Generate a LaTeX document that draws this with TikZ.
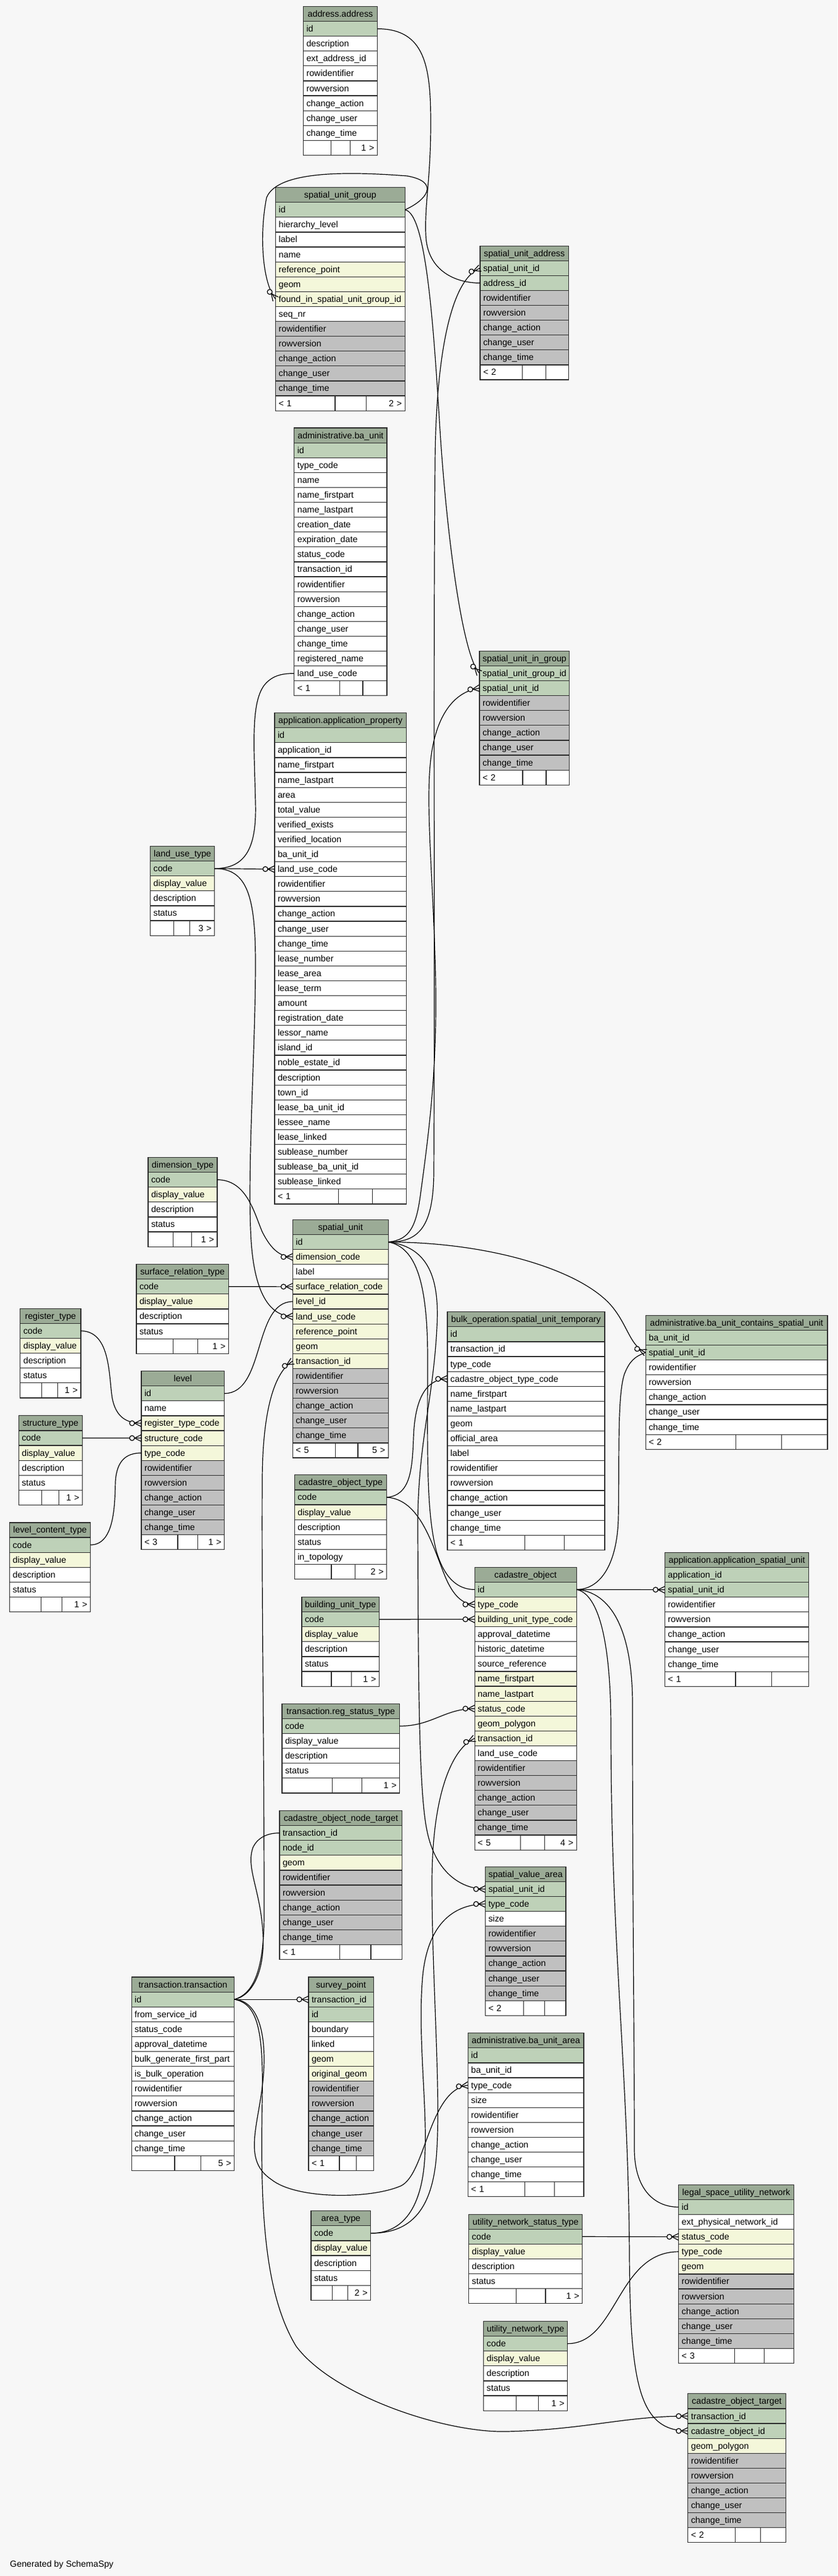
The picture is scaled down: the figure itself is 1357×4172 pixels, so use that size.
\documentclass[tikz,border=0pt]{standalone}
\usepackage{fontspec}
\setmainfont{Liberation Sans}
\usetikzlibrary{positioning,decorations.markings}

\definecolor{bgcol}{HTML}{F7F7F7}
\definecolor{headcol}{HTML}{9BAB96}
\definecolor{pkcol}{HTML}{BED1B8}
\definecolor{ixcol}{HTML}{F4F7DA}
\definecolor{excol}{HTML}{C0C0C0}
\definecolor{linecol}{HTML}{2E2E2E}

\tikzset{
  tcell/.style={draw=linecol, line width=1.2pt, outer sep=0pt, inner xsep=5pt, inner ysep=0pt,
    minimum height=24.1pt, text height=10.4pt, text depth=0.4pt},
  colhead/.style={tcell, fill=headcol, align=center},
  colpk/.style={tcell, fill=pkcol, align=left},
  colix/.style={tcell, fill=ixcol, align=left},
  colpl/.style={tcell, fill=white, align=left},
  colex/.style={tcell, fill=excol, align=left},
  footl/.style={tcell, fill=white, align=left},
  footr/.style={tcell, fill=white, align=right},
  fkrel/.style={draw=black, line width=1.2pt,
    postaction={decorate, decoration={markings, mark=at position 1 with {
      \draw[line width=1.2pt, fill=bgcol] (-15pt,0pt) circle (4pt);
      \draw[line width=1.2pt] (0pt,5.5pt) -- (-11pt,0pt) -- (0pt,-5.5pt);}}}},
  onerel/.style={draw=black, line width=1.2pt,
    postaction={decorate, decoration={markings, mark=at position 1 with {
      \draw[line width=1.2pt, fill=bgcol] (-12pt,0pt) circle (4pt);
      \draw[line width=1.8pt] (-3pt,-6pt) -- (-3pt,6pt);}}}},
}

% #1 id, #2 top left, #3 width, #4 title, #5 columns, #6/#7 footer texts, #8/#9 footer splits
\newcommand{\dbtable}[9]{%
  \pgfmathsetmacro{\tw}{#3-10}%
  \pgfmathsetmacro{\wa}{#8*#3}%
  \pgfmathsetmacro{\wb}{(#9-#8)*#3}%
  \pgfmathsetmacro{\wc}{(1-#9)*#3}%
  \pgfmathsetmacro{\twa}{\wa-10}%
  \pgfmathsetmacro{\twc}{\wc-10}%
  \node[colhead, text width=\tw pt, anchor=north west] (#1-head) at #2 {#4};
  \foreach \col/\kind [remember=\col as \prevcol (initially head)] in {#5}{%
    \node[\kind, text width=\tw pt, below=0pt of #1-\prevcol] (#1-\col) {\col};
    \xdef\lastrow{\col}}
  \node[footl, text width=\twa pt, anchor=north west] (#1-fl) at (#1-\lastrow.south west) {#6};
  \node[tcell, fill=white, minimum width=\wb pt, right=0pt of #1-fl] (#1-fm) {};
  \node[footr, text width=\twc pt, right=0pt of #1-fm] (#1-fr) {#7};
}

\begin{document}
\catcode`\_=12
\begin{tikzpicture}[x=1pt, y=-1pt, every node/.style={font=\fontsize{14.3pt}{17pt}\selectfont, text=black}]

\fill[bgcol] (0,0) rectangle (1357,4172);
\useasboundingbox (0,0) rectangle (1357,4172);

\dbtable{addr}{(491.5,10.5)}{120}{address.address}{id/colpk,description/colpl,ext_address_id/colpl,
  rowidentifier/colpl,rowversion/colpl,change_action/colpl,change_user/colpl,change_time/colpl}{}{1 >}{0.376}{0.63}
\dbtable{sug}{(446.6,303.6)}{209.6}{spatial_unit_group}{id/colpk,hierarchy_level/colpl,label/colpl,name/colpl,
  reference_point/colix,geom/colix,found_in_spatial_unit_group_id/colix,seq_nr/colpl,rowidentifier/colex,
  rowversion/colex,change_action/colex,change_user/colex,change_time/colex}{< 1}{2 >}{0.46}{0.70}
\dbtable{sua}{(778,398.1)}{143.4}{spatial_unit_address}{spatial_unit_id/colpk,address_id/colpk,rowidentifier/colex,
  rowversion/colex,change_action/colex,change_user/colex,change_time/colex}{< 2}{}{0.48}{0.74}
\dbtable{bau}{(476.8,693)}{150.2}{administrative.ba_unit}{id/colpk,type_code/colpl,name/colpl,name_firstpart/colpl,
  name_lastpart/colpl,creation_date/colpl,expiration_date/colpl,status_code/colpl,transaction_id/colpl,
  rowidentifier/colpl,rowversion/colpl,change_action/colpl,change_user/colpl,change_time/colpl,
  registered_name/colpl,land_use_code/colpl}{< 1}{}{0.49}{0.74}
\dbtable{sig}{(777,1054.3)}{145.8}{spatial_unit_in_group}{spatial_unit_group_id/colpk,spatial_unit_id/colpk,
  rowidentifier/colex,rowversion/colex,change_action/colex,change_user/colex,change_time/colex}{< 2}{}{0.48}{0.74}
\dbtable{app}{(445,1154.6)}{213.5}{application.application_property}{id/colpk,application_id/colpl,
  name_firstpart/colpl,name_lastpart/colpl,area/colpl,total_value/colpl,verified_exists/colpl,
  verified_location/colpl,ba_unit_id/colpl,land_use_code/colpl,rowidentifier/colpl,rowversion/colpl,
  change_action/colpl,change_user/colpl,change_time/colpl,lease_number/colpl,lease_area/colpl,lease_term/colpl,
  amount/colpl,registration_date/colpl,lessor_name/colpl,island_id/colpl,noble_estate_id/colpl,
  description/colpl,town_id/colpl,lease_ba_unit_id/colpl,lessee_name/colpl,lease_linked/colpl,
  sublease_number/colpl,sublease_ba_unit_id/colpl,sublease_linked/colpl}{< 1}{}{0.485}{0.742}
\dbtable{lut}{(243.6,1370.5)}{104.2}{land_use_type}{code/colpk,display_value/colix,description/colpl,
  status/colpl}{}{3 >}{0.363}{0.616}
\dbtable{dim}{(240,1874.5)}{112}{dimension_type}{code/colpk,display_value/colix,description/colpl,
  status/colpl}{}{1 >}{0.365}{0.632}
\dbtable{su}{(474.4,1975.4)}{154.9}{spatial_unit}{id/colpk,dimension_code/colix,label/colpl,
  surface_relation_code/colix,level_id/colix,land_use_code/colix,reference_point/colix,geom/colix,
  transaction_id/colix,rowidentifier/colex,rowversion/colex,change_action/colex,change_user/colex,
  change_time/colex}{< 5}{5 >}{0.448}{0.682}
\dbtable{srt}{(221,2047.6)}{149.4}{surface_relation_type}{code/colpk,display_value/colix,description/colpl,
  status/colpl}{}{1 >}{0.4}{0.665}
\dbtable{reg}{(32.8,2119.3)}{98.1}{register_type}{code/colpk,display_value/colix,description/colpl,
  status/colpl}{}{1 >}{0.352}{0.618}
\dbtable{lvl}{(229,2220.6)}{134.7}{level}{id/colpk,name/colpl,register_type_code/colix,structure_code/colix,
  type_code/colix,rowidentifier/colex,rowversion/colex,change_action/colex,change_user/colex,
  change_time/colex}{< 3}{1 >}{0.4375}{0.678}
\dbtable{str}{(30.3,2292.8)}{103.1}{structure_type}{code/colpk,display_value/colix,description/colpl,
  status/colpl}{}{1 >}{0.359}{0.629}
\dbtable{lct}{(15.6,2465.9)}{130.9}{level_content_type}{code/colpk,display_value/colix,description/colpl,
  status/colpl}{}{1 >}{0.389}{0.646}
\dbtable{bulk}{(724.9,2124.7)}{255.1}{bulk_operation.spatial_unit_temporary}{id/colpk,transaction_id/colpl,
  type_code/colpl,cadastre_object_type_code/colpl,name_firstpart/colpl,name_lastpart/colpl,geom/colpl,
  official_area/colpl,label/colpl,rowidentifier/colpl,rowversion/colpl,change_action/colpl,change_user/colpl,
  change_time/colpl}{< 1}{}{0.491}{0.744}
\dbtable{bauc}{(1046.3,2130.3)}{294.7}{administrative.ba_unit_contains_spatial_unit}{ba_unit_id/colpk,
  spatial_unit_id/colpk,rowidentifier/colpl,rowversion/colpl,change_action/colpl,change_user/colpl,
  change_time/colpl}{< 2}{}{0.495}{0.748}
\dbtable{cot}{(477.3,2388.8)}{149.4}{cadastre_object_type}{code/colpk,display_value/colix,description/colpl,
  status/colpl,in_topology/colpl}{}{2 >}{0.4}{0.656}
\dbtable{apsu}{(1077.4,2514.4)}{233.4}{application.application_spatial_unit}{application_id/colpk,
  spatial_unit_id/colpk,rowidentifier/colpl,rowversion/colpl,change_action/colpl,change_user/colpl,
  change_time/colpl}{< 1}{}{0.491}{0.742}
\dbtable{co}{(769.2,2538.2)}{165}{cadastre_object}{id/colpk,type_code/colix,building_unit_type_code/colix,
  approval_datetime/colpl,historic_datetime/colpl,source_reference/colpl,name_firstpart/colix,
  name_lastpart/colix,status_code/colix,geom_polygon/colix,transaction_id/colix,land_use_code/colpl,
  rowidentifier/colex,rowversion/colex,change_action/colex,change_user/colex,change_time/colex}{< 5}{4 >}{0.45}{0.688}
\dbtable{but}{(489,2586.5)}{125.4}{building_unit_type}{code/colpk,display_value/colix,description/colpl,
  status/colpl}{}{1 >}{0.383}{0.64}
\dbtable{rst}{(457,2759.3)}{190.6}{transaction.reg_status_type}{code/colpk,display_value/colpl,
  description/colpl,status/colpl}{}{1 >}{0.429}{0.681}
\dbtable{cont}{(453,2932.5)}{198.8}{cadastre_object_node_target}{transaction_id/colpk,node_id/colpk,geom/colix,
  rowidentifier/colex,rowversion/colex,change_action/colex,change_user/colex,change_time/colex}{< 1}{}{0.49}{0.744}
\dbtable{sva}{(786.5,3023.3)}{130.4}{spatial_value_area}{spatial_unit_id/colpk,type_code/colpk,size/colpl,
  rowidentifier/colex,rowversion/colex,change_action/colex,change_user/colex,change_time/colex}{< 2}{}{0.476}{0.736}
\dbtable{trn}{(213.1,3202)}{166.7}{transaction.transaction}{id/colpk,from_service_id/colpl,status_code/colpl,
  approval_datetime/colpl,bulk_generate_first_part/colpl,is_bulk_operation/colpl,rowidentifier/colpl,
  rowversion/colpl,change_action/colpl,change_user/colpl,change_time/colpl}{}{5 >}{0.419}{0.672}
\dbtable{sp}{(500,3202)}{105.2}{survey_point}{transaction_id/colpk,id/colpk,boundary/colpl,linked/colpl,
  geom/colix,original_geom/colix,rowidentifier/colex,rowversion/colex,change_action/colex,change_user/colex,
  change_time/colex}{< 1}{}{0.475}{0.733}
\dbtable{bua}{(758.4,3292.7)}{187.6}{administrative.ba_unit_area}{id/colpk,ba_unit_id/colpl,type_code/colpl,
  size/colpl,rowidentifier/colpl,rowversion/colpl,change_action/colpl,change_user/colpl,
  change_time/colpl}{< 1}{}{0.491}{0.747}
\dbtable{lsun}{(1099.7,3538.3)}{186.8}{legal_space_utility_network}{id/colpk,ext_physical_network_id/colpl,
  status_code/colix,type_code/colix,geom/colix,rowidentifier/colex,rowversion/colex,change_action/colex,
  change_user/colex,change_time/colex}{< 3}{}{0.485}{0.743}
\dbtable{art}{(504,3580.7)}{96.8}{area_type}{code/colpk,display_value/colix,description/colpl,
  status/colpl}{}{2 >}{0.358}{0.618}
\dbtable{unst}{(759.7,3586.1)}{184}{utility_network_status_type}{code/colpk,display_value/colix,
  description/colpl,status/colpl}{}{1 >}{0.419}{0.675}
\dbtable{unt}{(783.7,3759.5)}{135.9}{utility_network_type}{code/colpk,display_value/colix,description/colpl,
  status/colpl}{}{1 >}{0.387}{0.654}
\dbtable{cotg}{(1114.8,3876.8)}{158.3}{cadastre_object_target}{transaction_id/colpk,cadastre_object_id/colpk,
  geom_polygon/colix,rowidentifier/colex,rowversion/colex,change_action/colex,change_user/colex,
  change_time/colex}{< 2}{}{0.484}{0.742}

\node[anchor=base west, inner sep=0pt] (gen) at (16,4157) {Generated by SchemaSpy};

\draw[fkrel] (addr-id.east) .. controls (690,46.6) and (698,110) .. (698,200) .. controls (698,290) and (688,330) .. (690,380) .. controls (692,440) and (740,458.5) .. (sua-address_id.west);
\draw[fkrel] (sug-id.east) .. controls (690,325) and (715,295) .. (660,285) .. controls (570,278) and (450,275) .. (432,320) .. controls (420,380) and (425,458) .. (sug-found_in_spatial_unit_group_id.west);
\draw[fkrel] (sug-id.east) .. controls (690,345) and (702,520) .. (712,680) .. controls (722,850) and (748,1060) .. (sig-spatial_unit_group_id.west);

\draw[fkrel] (su-id.east) .. controls (680,2012) and (702,1985) .. (703,1900) .. controls (705,1500) and (702,1100) .. (705,750) .. controls (706,600) and (725,455) .. (sua-spatial_unit_id.west);
\draw[fkrel] (su-id.east) .. controls (665,2008) and (675,1985) .. (682,1930) .. controls (700,1800) and (710,1700) .. (705,1550) .. controls (700,1400) and (690,1300) .. (698,1230) .. controls (706,1160) and (735,1120) .. (sig-spatial_unit_id.west);
\draw[fkrel] (su-id.east) .. controls (800,2012) and (950,2060) .. (995,2120) .. controls (1018,2150) and (1022,2180) .. (bauc-spatial_unit_id.west);
\draw[onerel] (su-id.east) .. controls (675,2020) and (693,2080) .. (693,2200) .. controls (693,2350) and (690,2450) .. (708,2515) .. controls (722,2560) and (745,2574.4) .. (co-id.west);
\draw[fkrel] (su-id.east) .. controls (700,2020) and (712,2080) .. (708,2150) .. controls (702,2270) and (676,2340) .. (677,2480) .. controls (678,2700) and (678,2900) .. (692,2965) .. controls (705,3030) and (745,3059.5) .. (sva-spatial_unit_id.west);

\draw[fkrel] (lut-code.east) .. controls (400,1406.8) and (416,1370) .. (414,1300) .. controls (412,1210) and (406,1140) .. (428,1110) .. controls (440,1095) and (455,1090.6) .. (bau-land_use_code.west);
\draw[fkrel] (lut-code.east) -- (app-land_use_code.west);
\draw[fkrel] (lut-code.east) .. controls (400,1406.8) and (414,1450) .. (414,1560) .. controls (414,1700) and (400,1900) .. (407,2010) .. controls (413,2100) and (440,2132) .. (su-land_use_code.west);
\draw[fkrel] (dim-code.east) .. controls (400,1910.8) and (412,1965) .. (425,1995) .. controls (440,2025) and (455,2035.7) .. (su-dimension_code.west);
\draw[fkrel] (srt-code.east) -- (su-surface_relation_code.west);
\draw[fkrel] (lvl-id.east) .. controls (430,2256.8) and (410,2108) .. (su-level_id.west);
\draw[fkrel] (reg-code.east) .. controls (180,2155.6) and (176,2230) .. (182,2265) .. controls (188,2295) and (205,2305) .. (lvl-register_type_code.west);
\draw[fkrel] (str-code.east) -- (lvl-structure_code.west);
\draw[fkrel] (lct-code.east) .. controls (185,2502) and (186,2440) .. (187,2400) .. controls (189,2365) and (205,2353.2) .. (lvl-type_code.west);

\draw[fkrel] (cot-code.east) .. controls (665,2422) and (668,2380) .. (670,2330) .. controls (672,2262) and (692,2233.2) .. (bulk-cadastre_object_type_code.west);
\draw[fkrel] (cot-code.east) .. controls (680,2428) and (700,2500) .. (720,2550) .. controls (734,2585) and (750,2598.5) .. (co-type_code.west);
\draw[fkrel] (but-code.east) -- (co-building_unit_type_code.west);
\draw[fkrel] (rst-code.east) .. controls (700,2795.6) and (720,2767.2) .. (co-status_code.west);
\draw[fkrel] (art-code.east) .. controls (665,3617) and (703,3580) .. (708,3480) .. controls (714,3380) and (700,3200) .. (700,3050) .. controls (700,2900) and (735,2830) .. (co-transaction_id.west);
\draw[fkrel] (art-code.east) .. controls (650,3617) and (682,3580) .. (688,3500) .. controls (694,3420) and (676,3300) .. (685,3200) .. controls (694,3110) and (740,3083.8) .. (sva-type_code.west);

\draw[fkrel] (trn-id.east) .. controls (420,3240) and (435,3300) .. (425,3380) .. controls (416,3450) and (395,3500) .. (440,3530) .. controls (480,3562) and (600,3562) .. (650,3540) .. controls (690,3520) and (695,3385) .. (bua-type_code.west);
\draw[fkrel] (trn-id.east) -- (sp-transaction_id.west);
\draw[fkrel] (trn-id.east) .. controls (410,3232) and (430,3190) .. (426,3130) .. controls (422,3060) and (398,3025) .. (410,2992) .. controls (418,2975) and (435,2968.5) .. (cont-transaction_id.west);
\draw[fkrel] (trn-id.east) .. controls (415,3228) and (428,3180) .. (428,3100) .. controls (428,2800) and (424,2600) .. (425,2400) .. controls (425,2300) and (440,2225) .. (su-transaction_id.west);
\draw[fkrel] (trn-id.east) .. controls (418,3245) and (427,3290) .. (425,3400) .. controls (422,3560) and (425,3710) .. (480,3800) .. controls (540,3880) and (720,3940) .. (820,3938) .. controls (950,3935) and (1010,3913) .. (cotg-transaction_id.west);

\draw[fkrel] (co-id.east) -- (apsu-spatial_unit_id.west);
\draw[fkrel] (co-id.east) .. controls (975,2574) and (1000,2530) .. (1002,2460) .. controls (1004,2360) and (1000,2260) .. (1012,2225) .. controls (1020,2205) and (1028,2197) .. (bauc-spatial_unit_id.west);
\draw[onerel] (co-id.east) .. controls (990,2578) and (1025,2640) .. (1025,2760) .. controls (1025,3100) and (1028,3300) .. (1028,3480) .. controls (1028,3545) and (1060,3574.5) .. (lsun-id.west);
\draw[fkrel] (co-id.east) .. controls (965,2580) and (990,2640) .. (990,2800) .. controls (990,3150) and (1018,3350) .. (1020,3650) .. controls (1021,3860) and (1035,3937) .. (cotg-cadastre_object_id.west);
\draw[fkrel] (unst-code.east) -- (lsun-status_code.west);
\draw[fkrel] (unt-code.east) .. controls (1000,3795.8) and (1000,3646.8) .. (lsun-type_code.west);

\end{tikzpicture}
\end{document}
